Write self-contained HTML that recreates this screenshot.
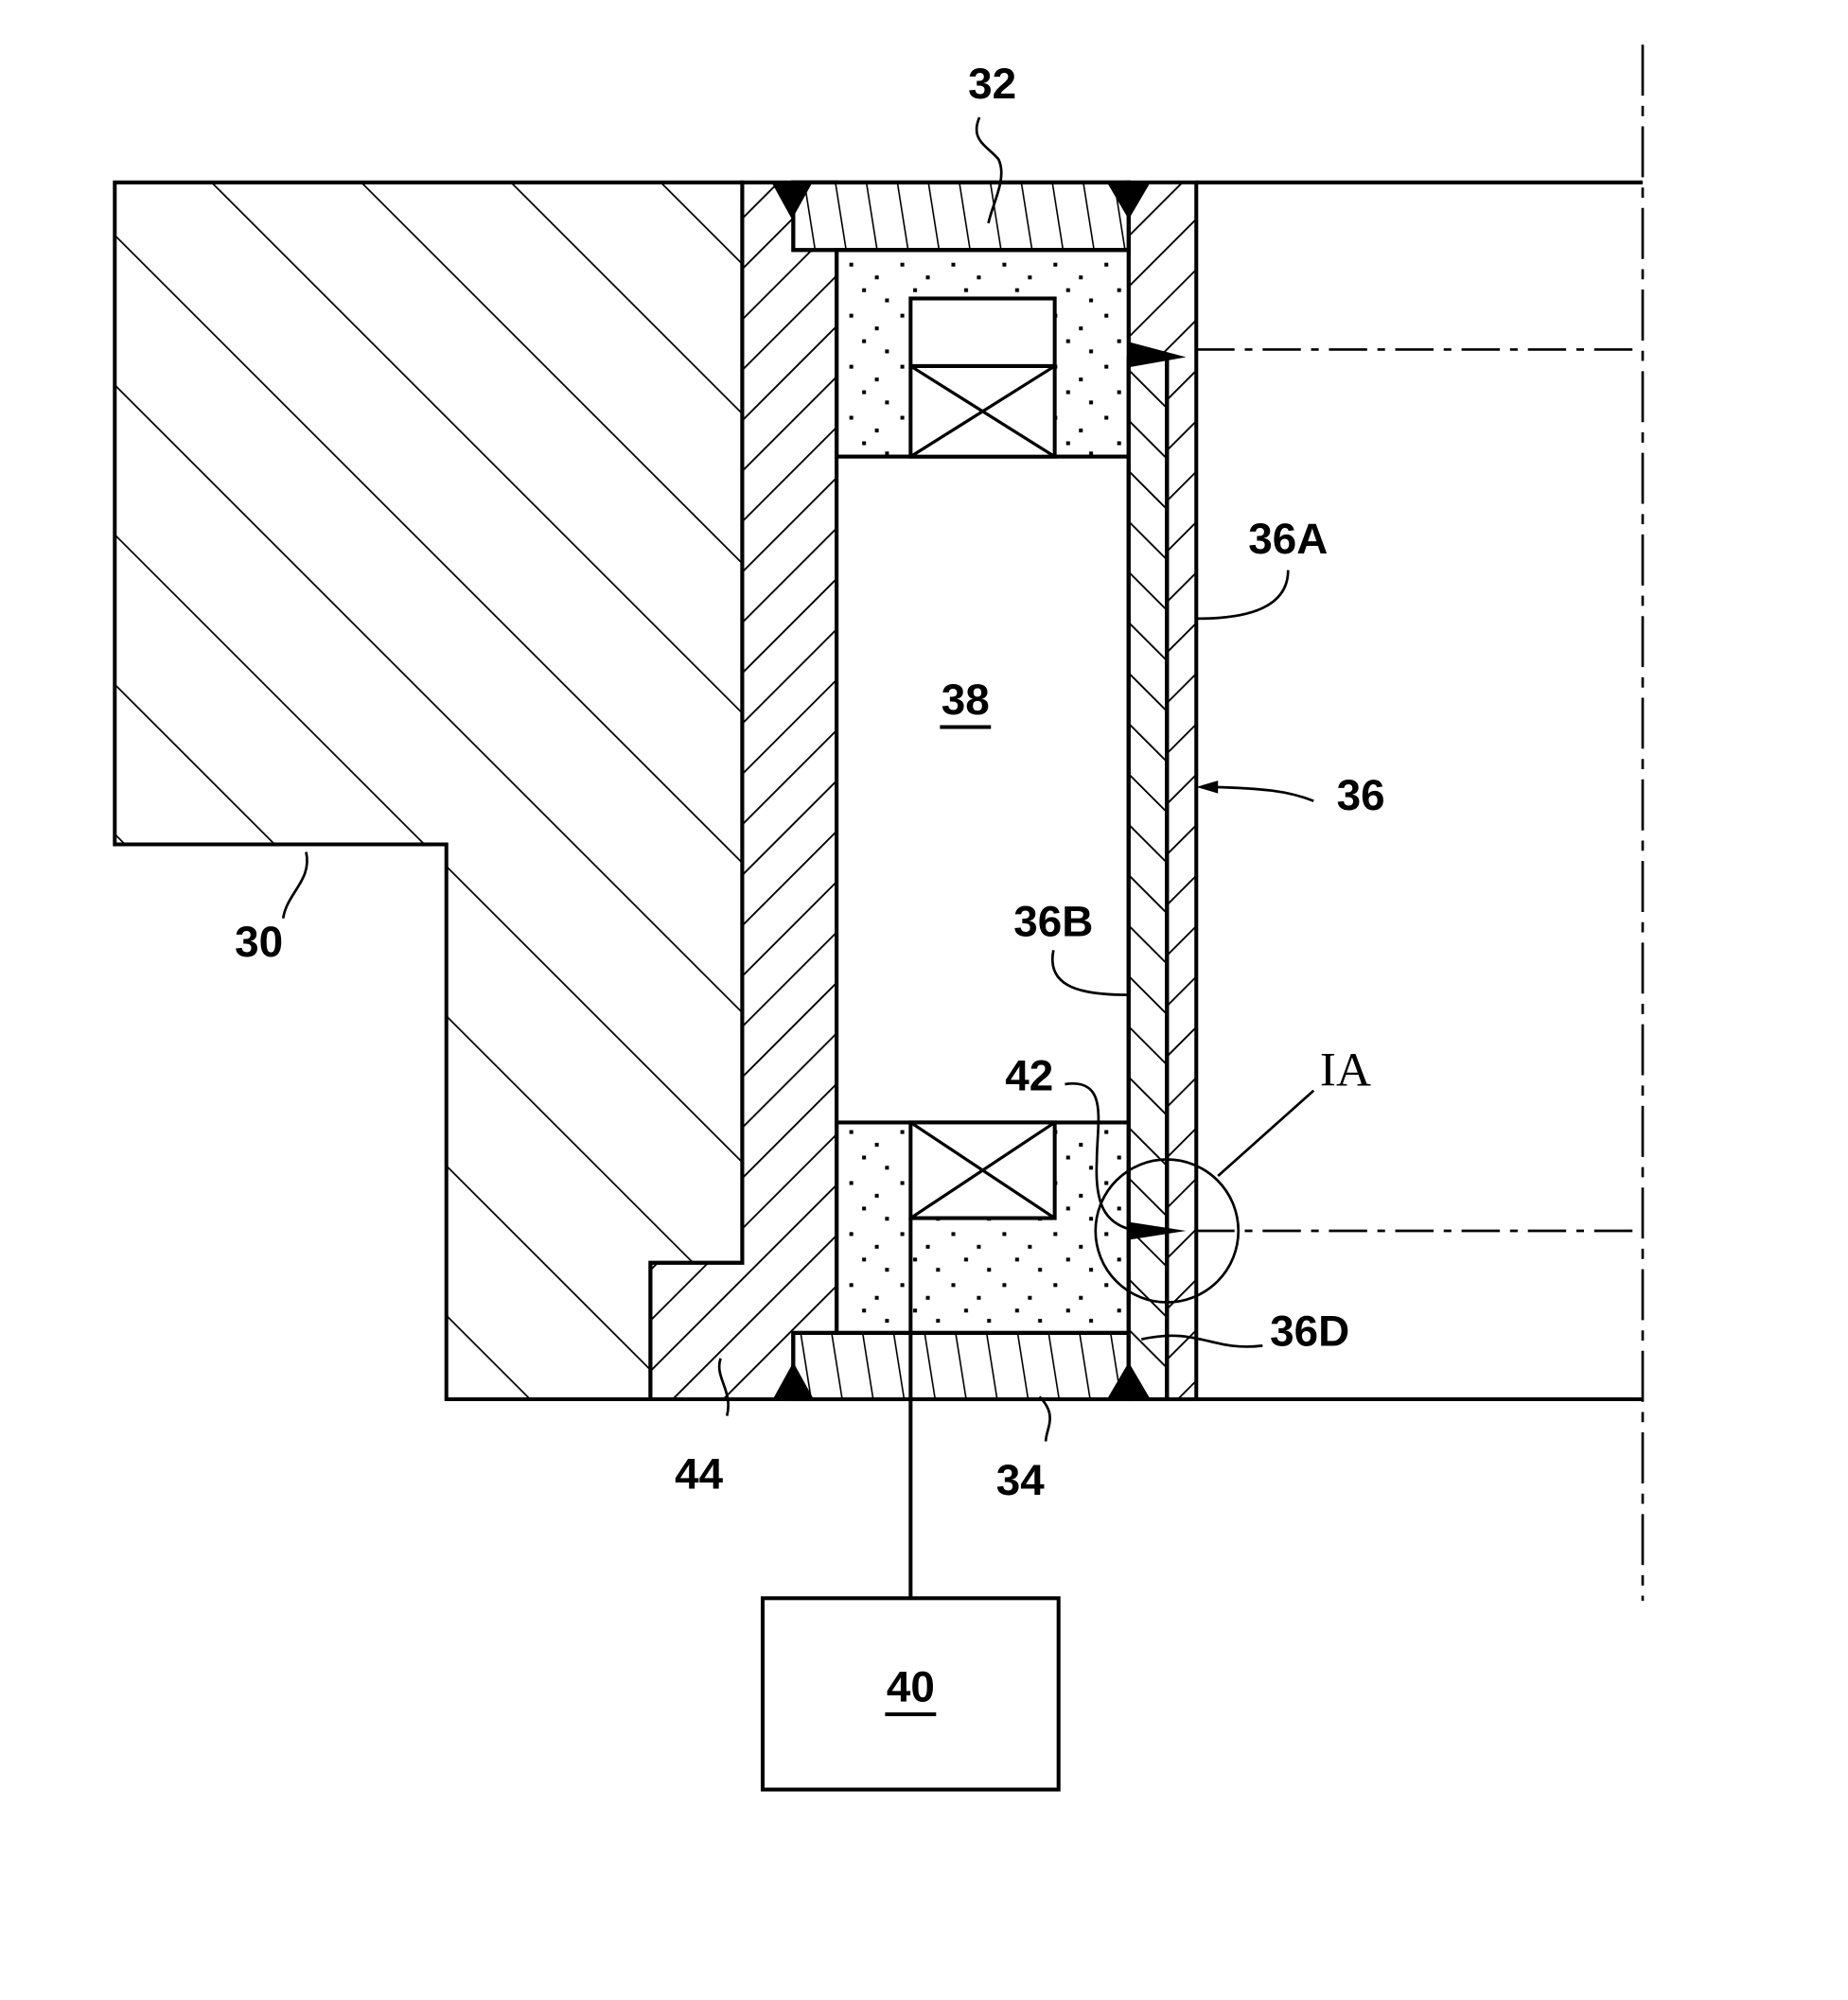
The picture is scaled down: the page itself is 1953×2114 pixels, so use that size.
<!DOCTYPE html>
<html><head><meta charset="utf-8"><style>
html,body{margin:0;padding:0;background:#fff}
svg{display:block}
text{font-family:"Liberation Sans",sans-serif;font-weight:bold;font-size:34px;fill:#000}
</style></head><body>
<svg width="1953" height="2114" viewBox="0 0 1449 1568" preserveAspectRatio="none" xmlns="http://www.w3.org/2000/svg">
<defs>
<pattern id="pBody" width="83" height="83" patternUnits="userSpaceOnUse" patternTransform="translate(165,143) rotate(-45)">
<line x1="0" y1="0" x2="0" y2="83" stroke="#000" stroke-width="2.6"/></pattern>
<pattern id="pSl" width="28" height="28" patternUnits="userSpaceOnUse" patternTransform="rotate(45)">
<line x1="0" y1="0" x2="0" y2="28" stroke="#000" stroke-width="2.8"/></pattern>
<pattern id="pBk" width="28" height="28" patternUnits="userSpaceOnUse" patternTransform="rotate(-45)">
<line x1="0" y1="0" x2="0" y2="28" stroke="#000" stroke-width="2.8"/></pattern>
<pattern id="pRing" width="24" height="24" patternUnits="userSpaceOnUse" patternTransform="rotate(-9)">
<line x1="0" y1="0" x2="0" y2="24" stroke="#000" stroke-width="2.4"/></pattern>
<pattern id="pDot" width="40" height="40" patternUnits="userSpaceOnUse" patternTransform="translate(660,200)">
<rect x="6" y="6" width="3" height="3"/><rect x="26" y="16" width="3" height="3"/><rect x="16" y="26" width="3" height="3"/><rect x="34" y="34" width="3" height="3"/></pattern>
</defs>
<g stroke="#000" stroke-width="3" fill="none">
<path d="M90,143 H582 V990 H510 V1097 H350 V662 H90 Z" fill="url(#pBody)"/>
<path d="M582,143 H656 V1045 H622 V1097 H510 V990 H582 Z" fill="url(#pSl)"/>
<rect x="622" y="143" width="263" height="53" fill="#fff"/>
<rect x="622" y="143" width="263" height="53" fill="url(#pRing)"/>
<rect x="622" y="1045" width="263" height="52" fill="#fff"/>
<rect x="622" y="1045" width="263" height="52" fill="url(#pRing)"/>
<rect x="656" y="196" width="229" height="162" fill="url(#pDot)"/>
<rect x="656" y="880" width="229" height="165" fill="url(#pDot)"/>
<rect x="656" y="358" width="229" height="522" fill="#fff"/>
<rect x="714" y="234" width="113" height="124" fill="#fff"/>
<line x1="714" y1="287" x2="827" y2="287"/>
<path d="M714,287 L827,358 M827,287 L714,358" stroke-width="2.4"/>
<rect x="714" y="880" width="113" height="75" fill="#fff"/>
<path d="M714,880 L827,955 M827,880 L714,955" stroke-width="2.4"/>
<rect x="885" y="143" width="53" height="954" fill="url(#pSl)"/>
<rect x="885" y="280" width="30" height="817" fill="#fff"/>
<rect x="885" y="280" width="30" height="817" fill="url(#pBk)"/>
<line x1="915" y1="280" x2="915" y2="1097"/>
<line x1="938" y1="143" x2="1288" y2="143"/>
<line x1="938" y1="1097" x2="1288" y2="1097"/>
<line x1="938" y1="274" x2="1288" y2="274" stroke-width="2" stroke-dasharray="30,8,6,8"/>
<line x1="938" y1="965" x2="1288" y2="965" stroke-width="2" stroke-dasharray="30,8,6,8"/>
<line x1="1288" y1="35" x2="1288" y2="1255" stroke-width="2" stroke-dasharray="40,8,8,8"/>
<line x1="714" y1="955" x2="714" y2="1253"/>
<rect x="598" y="1253" width="232" height="150"/>
<circle cx="915" cy="965" r="56" stroke-width="2"/>
<line x1="955" y1="922" x2="1030" y2="855" stroke-width="2"/>
<g stroke-width="2">
<path d="M768,92 C760,110 775,115 783,125 C790,140 778,160 775,175"/>
<path d="M1010,447 C1010,480 970,485 938,485"/>
<path d="M1030,628 C1010,620 990,618 950,617"/>
<path d="M826,745 C820,775 850,780 885,780"/>
<path d="M240,668 C245,690 225,700 222,720"/>
<path d="M835,850 C870,845 860,880 860,910 C858,950 870,960 890,965"/>
<path d="M990,1055 C950,1060 940,1040 895,1050"/>
<path d="M565,1065 C560,1080 575,1090 570,1110"/>
<path d="M815,1095 C830,1110 820,1120 820,1130"/>
</g>
</g>
<g fill="#000">
<polygon points="605,143 637,143 621,172"/>
<polygon points="868,143 902,143 885,172"/>
<polygon points="606,1097 638,1097 622,1068"/>
<polygon points="868,1097 902,1097 885,1068"/>
<polygon points="885,268 930,280 885,288"/>
<polygon points="885,958 930,965 885,972"/>
<polygon points="938,617 955,612 955,622"/>
</g>
<text x="778" y="77" text-anchor="middle">32</text>
<text x="757" y="560" text-anchor="middle">38</text>
<line x1="737" y1="570" x2="777" y2="570" stroke="#000" stroke-width="3"/>
<text x="1010" y="434" text-anchor="middle">36A</text>
<text x="1067" y="635" text-anchor="middle">36</text>
<text x="826" y="734" text-anchor="middle">36B</text>
<text x="203" y="750" text-anchor="middle">30</text>
<text x="807" y="855" text-anchor="middle">42</text>
<text x="1027" y="1055" text-anchor="middle">36D</text>
<text x="548" y="1167" text-anchor="middle">44</text>
<text x="800" y="1172" text-anchor="middle">34</text>
<text x="714" y="1334" text-anchor="middle">40</text>
<line x1="694" y1="1344" x2="734" y2="1344" stroke="#000" stroke-width="3"/>
<text x="1055" y="851" text-anchor="middle" style="font-family:'Liberation Serif',serif;font-weight:normal;font-size:38px">IA</text>
</svg>
</body></html>
